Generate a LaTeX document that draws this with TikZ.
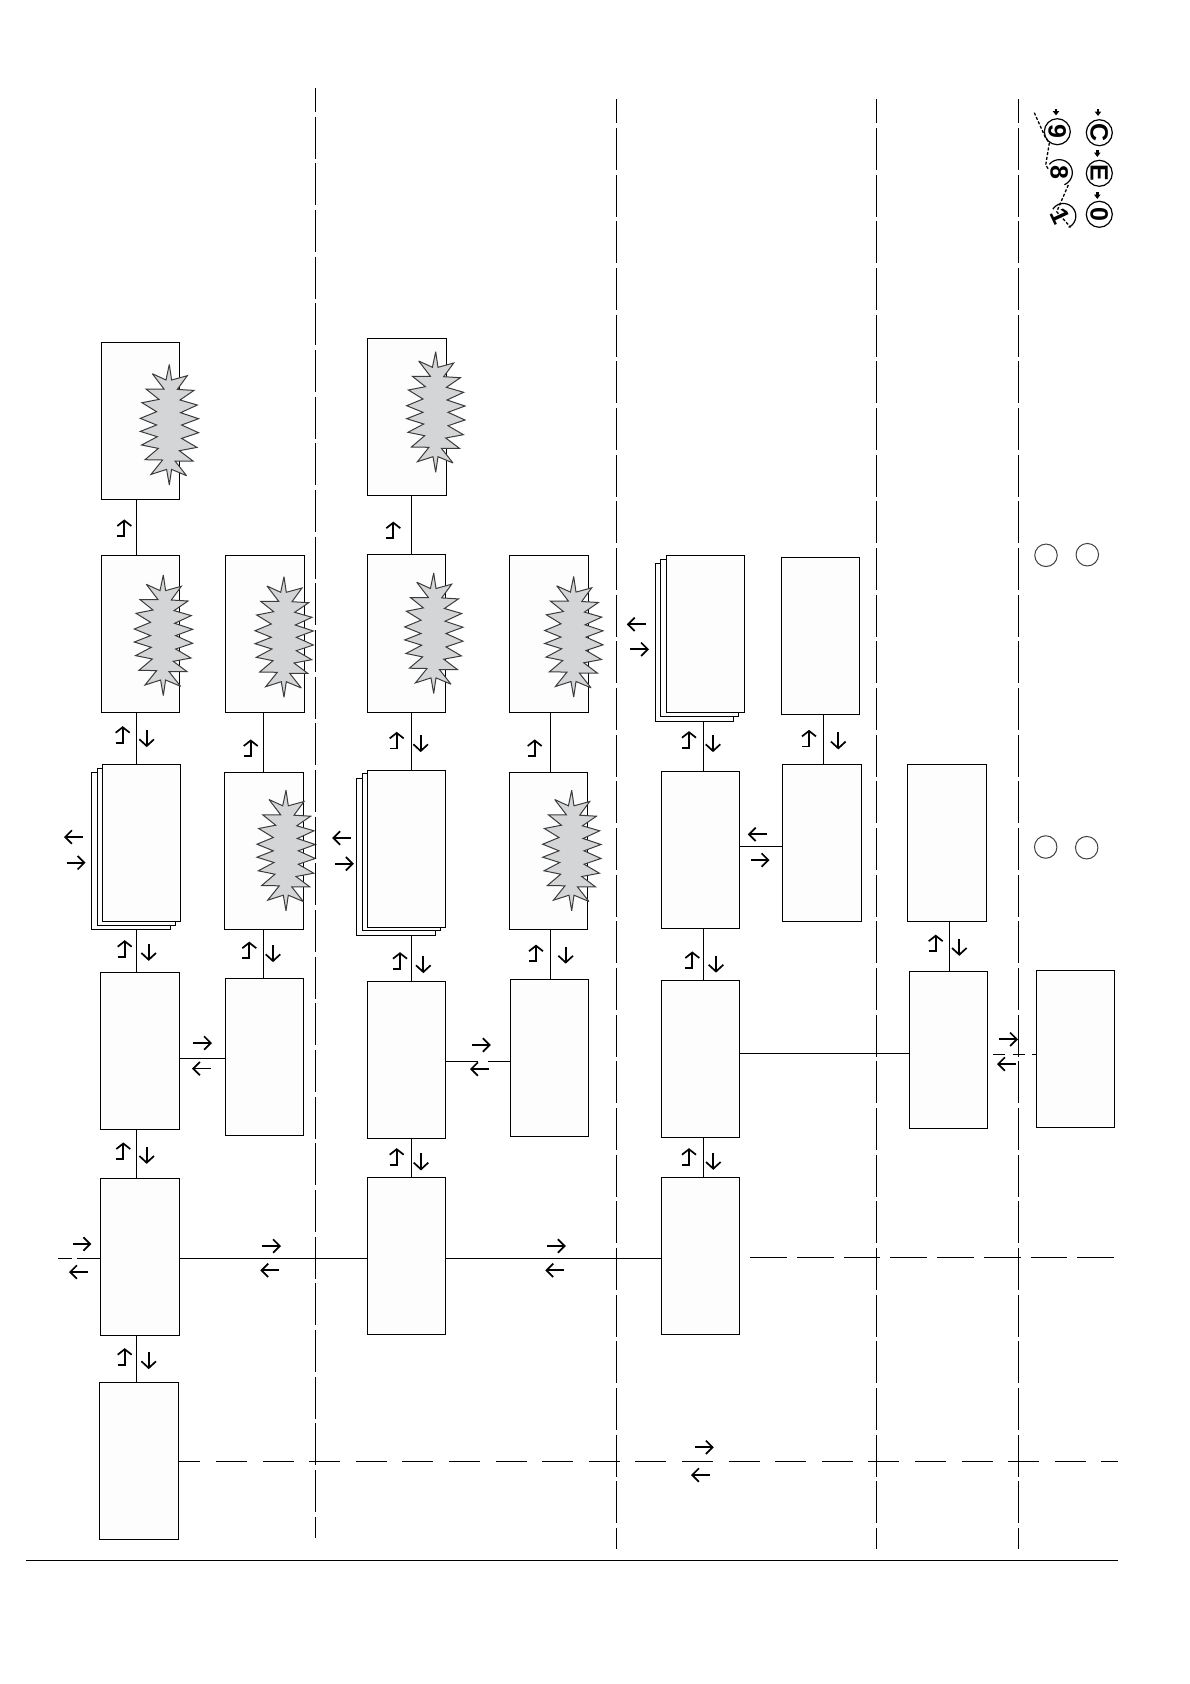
\documentclass[tikz,border=0pt]{standalone}
\usepackage{fontspec}
\setmainfont{Liberation Sans}
\definecolor{starfill}{HTML}{D3D5D7}
\definecolor{starline}{HTML}{3C3C3C}
\definecolor{boxfill}{HTML}{FDFDFD}
\newcommand\bxn[5]{\pgfmathsetmacro\bw{#4-#2}\pgfmathsetmacro\bh{#5-#3}\node[bx,minimum width=\bw pt,minimum height=\bh pt] (#1) at ({(#2+#4)/2},{(#3+#5)/2}) {};}
\newcommand\starat[2]{\draw[starb,shift={(#1,#2)}] (0,-60.3)--(2.3,-44.7)--(18,-49)--(8,-35.3)--(24.7,-34.3)--(10.7,-24.7)--(28,-19.7)--(11.3,-12)--(29.3,-6)--(12.3,.3)--(29.3,8)--(12.3,13.7)--(27.7,22.7)--(10,26)--(23.7,36.3)--(5.7,36.3)--(17.3,51)--(2.3,44.7)--(0,60.3)--(-2.7,44.7)--(-18.3,49.7)--(-6.7,35.3)--(-24.3,35)--(-11,23.7)--(-27.7,20.3)--(-12,12)--(-29,6.7)--(-12.7,.3)--(-29,-6.3)--(-12.7,-13)--(-27.3,-22)--(-10.3,-25.3)--(-23.3,-35.7)--(-5.3,-35.7)--(-17,-51)--(-3.3,-44.7)--cycle;}
\tikzset{
  bx/.style={draw=black,fill=boxfill,line width=1pt,inner sep=0pt,outer sep=0pt},
  conn/.style={draw=black,line width=1pt},
  divider/.style={draw=black,line width=1.2pt,dash pattern=on 42pt off 4.67pt,dash phase=17.7pt},
  longdash/.style={draw=black,line width=1pt,dash pattern=on 31pt off 15.6pt,dash phase=9pt},
  middash/.style={draw=black,line width=1pt,dash pattern=on 36.7pt off 10pt},
  shortdash/.style={draw=black,line width=1pt,dash pattern=on 12pt off 7.7pt},
  starb/.style={draw=starline,fill=starfill,line width=1pt,line join=miter,miter limit=4},
  ring/.style={draw=black!75,line width=1pt,circle,minimum size=22.5pt,inner sep=0pt},
  lgd/.style={draw=black,line width=1.2pt,circle,minimum size=26pt,inner sep=0pt,rotate=-90,font=\fontsize{25}{25}\selectfont\bfseries},
  lgdplain/.style={inner sep=0pt,font=\fontsize{25}{25}\selectfont\bfseries},
  every pic/.style={line width=1.7pt,miter limit=10},
  fat/.style={line width=2.6pt},
  pics/uf/.style={code={\draw (-7,7.8)--(0,7.8)--(0,-7.8);\draw (-7,-2.3)--(0,-7.8)--(7,-2.3);}},
  pics/dn/.style={code={\draw (0,-8)--(0,8);\draw (-7.3,1.3)--(0,8)--(7.3,1.3);}},
  pics/rt/.style={code={\draw (-8.8,0)--(8.8,0);\draw (2.1,-6.7)--(8.8,0)--(2.1,6.7);}},
  pics/lf/.style={code={\draw (-8.8,0)--(8.8,0);\draw (-2.1,-6.7)--(-8.8,0)--(-2.1,6.7);}},
  pics/blob/.style={code={\fill (-3.2,-.8)--(3.2,-.8)--(0,3.4)--cycle;\fill (-1.4,-3.4) rectangle (1.4,0);}},
}
\begin{document}
\begin{tikzpicture}[x=1pt,y=-1pt]
\useasboundingbox[fill=white] (0,0) rectangle (1190,1684);
% boxes
\bxn{aa}{101.3}{342.3}{179.3}{499.3}
\bxn{ab}{101.3}{555.3}{179.3}{712.3}
\bxn{acz}{91.3}{772}{170.3}{929.3}
\bxn{acy}{97.3}{768.3}{175.3}{925.3}
\bxn{ac}{102.3}{764.3}{180.3}{921.3}
\bxn{ad}{100.3}{972.3}{179.3}{1129.3}
\bxn{ae}{100.3}{1178.3}{179.3}{1335.3}
\bxn{af}{99.3}{1382.3}{178.3}{1539}
\bxn{bb}{225.3}{555.3}{304.3}{712.3}
\bxn{bc}{224.3}{772.3}{303.3}{929.3}
\bxn{bd}{225.3}{978.3}{303.3}{1135.3}
\bxn{ca}{367.3}{338.3}{446.3}{495}
\bxn{cb}{367.3}{554.3}{445.3}{712}
\bxn{ccz}{356.3}{778.3}{435.3}{935.3}
\bxn{ccy}{362.3}{773.3}{440.3}{930.3}
\bxn{cc}{367.3}{770.3}{445.3}{927.3}
\bxn{cd}{367.3}{981.3}{445.3}{1138.3}
\bxn{ce}{367.3}{1177.3}{445.3}{1334}
\bxn{db}{509.3}{555.3}{588.3}{712}
\bxn{dc}{509.3}{772.3}{587.3}{929.3}
\bxn{dd}{510.3}{979.3}{588.3}{1136.3}
\bxn{ebz}{655.3}{563.3}{733.3}{721.3}
\bxn{eby}{660.3}{559.3}{738.3}{716.3}
\bxn{eb}{666.3}{555.3}{744.3}{712.3}
\bxn{ec}{661.3}{771.3}{739.3}{928.3}
\bxn{ed}{661.3}{980.3}{739.3}{1137.3}
\bxn{ee}{661.3}{1177.3}{739.3}{1334.3}
\bxn{fb}{781.3}{557.3}{859.3}{714.3}
\bxn{fc}{782.3}{764.3}{861.3}{921.3}
\bxn{gc}{907.3}{764.3}{986.7}{921.3}
\bxn{gd}{909.3}{971.3}{987.3}{1128.3}
\bxn{hd}{1036.3}{970.3}{1114.3}{1127.3}
% connector tracks
\coordinate (xa) at (136.3,0); \coordinate (xb) at (263.3,0);
\coordinate (xc) at (411.3,0); \coordinate (xd) at (550.3,0);
\coordinate (xe) at (703.3,0); \coordinate (xf) at (823.3,0);
\coordinate (xg) at (949.3,0);
\coordinate (ya) at (0,1058); \coordinate (yb) at (0,1258);
\coordinate (yc) at (0,1061.3); \coordinate (yd) at (0,846);
\coordinate (ye) at (0,1053.3); \coordinate (yf) at (0,1054.3);
\coordinate (yg) at (0,1461.3);
\coordinate (gapl) at (477.7,1061.3); \coordinate (gapr) at (488,1061.3);
\coordinate (leftend) at (58.3,1258); \coordinate (leftgapa) at (71.7,1258); \coordinate (leftgapb) at (76.7,1258);
\coordinate (dashstart) at (993,1054.3);
\coordinate (rowdashl) at (750.3,1257.3); \coordinate (rowdashr) at (1114.3,1257.3);
\coordinate (rowsixr) at (1118,1461.3);
\coordinate (rulel) at (26,1560.3); \coordinate (ruler) at (1118,1560.3);
% vertical connectors
\draw[conn] (aa.south-|xa)--(ab.north-|xa) (ab.south-|xa)--(ac.north-|xa) (acz.south-|xa)--(ad.north-|xa) (ad.south-|xa)--(ae.north-|xa) (ae.south-|xa)--(af.north-|xa);
\draw[conn] (bb.south-|xb)--(bc.north-|xb) (bc.south-|xb)--(bd.north-|xb);
\draw[conn] (ca.south-|xc)--(cb.north-|xc) (cb.south-|xc)--(cc.north-|xc) (ccz.south-|xc)--(cd.north-|xc) (cd.south-|xc)--(ce.north-|xc);
\draw[conn] (db.south-|xd)--(dc.north-|xd) (dc.south-|xd)--(dd.north-|xd);
\draw[conn] (ebz.south-|xe)--(ec.north-|xe) (ec.south-|xe)--(ed.north-|xe) (ed.south-|xe)--(ee.north-|xe);
\draw[conn] (fb.south-|xf)--(fc.north-|xf);
\draw[conn] (gc.south-|xg)--(gd.north-|xg);
% horizontal connectors
\draw[conn] (ad.east|-ya)--(bd.west|-ya);
\draw[conn] (ae.east|-yb)--(ce.west|-yb) (ce.east|-yb)--(ee.west|-yb);
\draw[conn] (cd.east|-yc)--(gapl) (gapr)--(dd.west|-yc);
\draw[conn] (ec.east|-yd)--(fc.west|-yd);
\draw[conn] (ed.east|-ye)--(gd.west|-ye);
\draw[conn] (leftend)--(leftgapa) (leftgapb)--(ae.west|-yb);
\draw[shortdash] (dashstart)--(hd.west|-yf);
\draw[longdash] (af.east|-yg)--(rowsixr);
\draw[middash] (rowdashl)--(rowdashr);
\draw[draw=black,line width=1.4pt] (rulel)--(ruler);
% stars
\starat{169.3}{424.7}\starat{163.3}{635.3}\starat{284}{637}\starat{286}{850.5}
\starat{435.7}{412}\starat{433.7}{633.2}\starat{573.7}{636.8}\starat{571.7}{850.5}
% divider lines
\coordinate (da) at (315.7,88); \coordinate (db1) at (315.7,1537.7);
\coordinate (dc1) at (616.3,99); \coordinate (dc2) at (616.3,1548.7);
\coordinate (dd1) at (876.5,99); \coordinate (dd2) at (876.5,1548.7);
\coordinate (de1) at (1018.3,99); \coordinate (de2) at (1018.3,1548.7);
\draw[divider,dash phase=18pt] (da)--(db1);
\draw[divider] (dc1)--(dc2);
\draw[divider] (dd1)--(dd2);
\draw[divider] (de1)--(de2);
% arrows
\foreach \x/\y in {124.3/528.3,122.7/735,250.7/748.3,124.7/949,123.3/1151.3,124.7/1357,393.3/530.5,534.7/748.3,396.7/1157,809/738.7,935.7/943.5}
  \pic at (\x,\y) {uf};
\foreach \x/\y in {249.3/950.5,396.7/740.7,400/961,536/953.5,689/1157,689/740,692.3/960.3}
  \pic[fat] at (\x,\y) {uf};
\foreach \x/\y in {146.7/738,273/953,146.7/1154.7,420.7/743,421/1161.3,713.3/1160.7,713/743,838.3/740.3,716/963.5}
  \pic at (\x,\y) {dn};
\foreach \x/\y in {148.7/951.7,148.7/1360,423.3/964,565.7/954.5,959.3/946.7}
  \pic[fat] at (\x,\y) {dn};
\foreach \x/\y in {81.3/1244,271/1246,75.5/862.7,202/1043,343.8/863.7,480.8/1045,555.8/1246,639/649.3,759.5/860,703.8/1447.3}
  \pic at (\x,\y) {rt};
\pic[fat] at (1008,1039.3) {rt};
\foreach \x/\y in {79/1272,74/837,342.2/838,480/1069,555.3/1270.3,636.8/624.3,757.8/834.3,1007/1064,701/1475}
  \pic at (\x,\y) {lf};
\pic[fat] at (270.3,1270.3) {lf};
\pic[fat] at (202,1068.6) {lf};
% rings
\node[ring] (ra) at (1046,555.3) {};
\node[ring] (rb) at (1087.3,554.7) {};
\node[ring] (rc) at (1045.7,847) {};
\node[ring] (rd) at (1086.7,847.7) {};
% legend
\node[lgd] (l9) at (1057.3,131.7) {9};
\node[lgd] (lC) at (1099.3,132.7) {C};
\node[lgd] (lE) at (1099.3,173.3) {E};
\node[lgd] (l0) at (1099.3,214.3) {0};
\node[lgdplain,rotate=-90] (l8) at (1059.3,172.7) {8};
\node[lgdplain,rotate=-65] (l1) at (1060,216) {1};
\draw[black,line width=1.2pt] plot[domain=-67:140,samples=30] ({1059.3+13*cos(\x)},{172.7-13*sin(\x)});
\draw[black,line width=1.2pt] plot[domain=-65:147,samples=30] ({1063.3+12.5*cos(\x)},{216-12.5*sin(\x)});
\draw[black,line width=1.3pt,dash pattern=on 3pt off 1.8pt] (1034.3,112.7)--(1045,136.7)--(1049.3,143)--(1045.7,165)--(1049,170);
\draw[black,line width=1.3pt,dash pattern=on 3pt off 1.8pt] (1068.3,185)--(1056.7,211.7)--(1070.7,227.3);
\foreach \x/\y in {1056/112,1098/112.5,1097.3/153.5,1097.3/195.5}
  \pic at (\x,\y) {blob};
\end{tikzpicture}
\end{document}
